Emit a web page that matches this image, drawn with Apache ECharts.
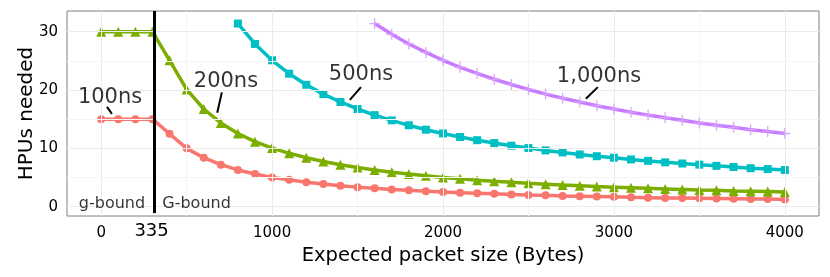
<!DOCTYPE html>
<html>
<head>
<meta charset="utf-8">
<script src="https://cdn.jsdelivr.net/npm/echarts@6/dist/echarts.min.js"></script>
<style>
html,body{margin:0;padding:0;background:#fff;}
#c{width:830px;height:277px;}
</style>
</head>
<body>
<div id="c"></div>
<script>
// ---- data ----
const xAll = [0,100,200,300,400,500,600,700,800,900,1000,1100,1200,1300,1400,1500,1600,1700,1800,1900,2000,2100,2200,2300,2400,2500,2600,2700,2800,2900,3000,3100,3200,3300,3400,3500,3600,3700,3800,3900,4000];
const hpu100 = [15,15,15,15,12.5,10.0,8.4,7.2,6.3,5.6,5.0,4.6,4.2,3.9,3.6,3.35,3.15,2.95,2.8,2.65,2.5,2.4,2.3,2.2,2.1,2.0,1.95,1.85,1.8,1.75,1.7,1.6,1.55,1.5,1.5,1.45,1.4,1.35,1.3,1.3,1.25];
const hpu200 = [30,30,30,30,25.1,20.1,16.75,14.35,12.55,11.15,10.05,9.15,8.4,7.75,7.2,6.7,6.3,5.9,5.6,5.3,5.0,4.8,4.55,4.35,4.2,4.0,3.85,3.7,3.6,3.45,3.35,3.25,3.15,3.05,2.95,2.85,2.8,2.7,2.65,2.6,2.5];
const x500 = [800,900,1000,1100,1200,1300,1400,1500,1600,1700,1800,1900,2000,2100,2200,2300,2400,2500,2600,2700,2800,2900,3000,3100,3200,3300,3400,3500,3600,3700,3800,3900,4000];
const hpu500 = [31.4,27.9,25.1,22.8,20.9,19.3,17.95,16.75,15.7,14.8,13.95,13.2,12.55,11.95,11.4,10.9,10.45,10.05,9.65,9.3,8.95,8.65,8.4,8.1,7.85,7.6,7.4,7.2,7.0,6.8,6.6,6.45,6.28];
const x1000 = [1600,1700,1800,1900,2000,2100,2200,2300,2400,2500,2600,2700,2800,2900,3000,3100,3200,3300,3400,3500,3600,3700,3800,3900,4000];
const hpu1000 = [31.4,29.55,27.9,26.45,25.1,23.9,22.85,21.85,20.95,20.1,19.3,18.6,17.95,17.3,16.75,16.2,15.7,15.25,14.8,14.35,13.95,13.6,13.2,12.9,12.55];
const seriesNames = ['100ns','200ns','500ns','1,000ns'];
const xTicks = [0,1000,2000,3000,4000];
const xMinor = [500,1500,2500,3500];
const yTicks = [0,10,20,30];
const yMinor = [5,15,25];
const boundX = 309;          // position of the g/G boundary line as drawn
const boundLabel = '335';
const boundLabelX = 295;
const regionLabels = ['g-bound','G-bound'];
// annotation positions (data coords)
const annPos = [[52,18.7],[730,21.4],[1520,22.6],[2913,22.3]];
const leaders = [[[34,17.1],[63,15.9]],[[706,19.6],[679,16.1]],[[1520,20.5],[1455,18.3]],[[2906,20.5],[2836,18.5]]];
const regionPos = [[63,0.4],[558,0.4]];

const zip = (xs, ys) => xs.map((x,i)=>[x, ys[i]]);
const FONT = 'DejaVu Sans';
const colors = ['#F8766D','#7CAE00','#00BFC4','#C77CFF'];
const plusPath = 'path://M4.4,0h1.2v4.4h4.4v1.2h-4.4v4.4h-1.2v-4.4h-4.4v-1.2h4.4z';

const gridLines = [];
xTicks.forEach(v=>gridLines.push({xAxis:v, lineStyle:{color:'#ebebeb',width:1,type:'solid'}}));
xMinor.forEach(v=>gridLines.push({xAxis:v, lineStyle:{color:'#f5f5f5',width:1,type:'solid'}}));
yTicks.forEach(v=>gridLines.push({yAxis:v, lineStyle:{color:'#ebebeb',width:1,type:'solid'}}));
yMinor.forEach(v=>gridLines.push({yAxis:v, lineStyle:{color:'#f5f5f5',width:1,type:'solid'}}));

const chart = echarts.init(document.getElementById('c'), null, {renderer:'canvas'});
const option = {
  animation:false,
  backgroundColor:'#fff',
  textStyle:{fontFamily:FONT},
  grid:{left:67, top:11, width:752, height:205, show:true, borderColor:'#7f7f7f', borderWidth:1, backgroundColor:'transparent'},
  xAxis:{
    type:'value', min:-200, max:4200,
    name:'Expected packet size (Bytes)', nameLocation:'middle', nameGap:30, nameMoveOverlap:false,
    nameTextStyle:{fontFamily:FONT, fontSize:19.5, color:'#000'},
    axisLine:{show:false},
    splitLine:{show:false},
    axisTick:{show:true, customValues:xTicks, length:4, lineStyle:{color:'#333'}},
    axisLabel:{customValues:[0,boundLabelX,1000,2000,3000,4000], margin:10, fontFamily:FONT, fontSize:15, color:'#000',
      formatter:v => (v===boundLabelX ? '{big|'+boundLabel+'}' : String(v)),
      rich:{big:{fontFamily:FONT, fontSize:18, lineHeight:10, color:'#000'}}}
  },
  yAxis:{
    type:'value', min:-1.6, max:33.55,
    name:'HPUs needed', nameLocation:'middle', nameGap:30, nameMoveOverlap:false,
    nameTextStyle:{fontFamily:FONT, fontSize:20, color:'#000'},
    axisLine:{show:false},
    splitLine:{show:false},
    axisTick:{show:true, customValues:yTicks, length:4, lineStyle:{color:'#333'}},
    axisLabel:{customValues:yTicks, margin:9, fontFamily:FONT, fontSize:15, color:'#000'}
  },
  series:[
    {type:'line', data:[], silent:true, z:0, markLine:{silent:true, symbol:'none', label:{show:false}, animation:false, data:gridLines}},
    {name:seriesNames[0], type:'line', data:zip(xAll,hpu100), color:colors[0], symbol:'circle', symbolSize:8, lineStyle:{width:3.5}, z:2},
    {name:seriesNames[1], type:'line', data:zip(xAll,hpu200), color:colors[1], symbol:'triangle', symbolSize:10, lineStyle:{width:3.5}, z:3},
    {name:seriesNames[2], type:'line', data:zip(x500,hpu500), color:colors[2], symbol:'rect', symbolSize:8, lineStyle:{width:3.5}, z:4},
    {name:seriesNames[3], type:'line', data:zip(x1000,hpu1000), color:colors[3], symbol:plusPath, symbolSize:11,
      itemStyle:{color:'rgba(215,160,255,0.9)'}, lineStyle:{width:3.5, color:colors[3]}, z:5},
    {type:'line', data:[], silent:true, z:10, markLine:{silent:true, symbol:'none', label:{show:false}, animation:false,
      data:[
        [{coord:[boundX,-1.1], lineStyle:{color:'#000', width:3, type:'solid'}},{coord:[boundX,33.55]}]
      ].concat(leaders.map(l=>[{coord:l[0], lineStyle:{color:'#000', width:2, type:'solid'}},{coord:l[1]}]))}},
    {type:'scatter', silent:true, symbolSize:0, z:11,
      data:seriesNames.map((n,i)=>({name:n, value:annPos[i]})),
      label:{show:true, position:'inside', formatter:p=>p.name, fontFamily:FONT, fontSize:21, color:'#000'}},
    {type:'scatter', silent:true, symbolSize:0, z:11,
      data:regionLabels.map((n,i)=>({name:n, value:regionPos[i]})),
      label:{show:true, position:'inside', formatter:p=>p.name, fontFamily:FONT, fontSize:16, color:'#000'}}
  ]
};
chart.setOption(option);
</script>
</body>
</html>
